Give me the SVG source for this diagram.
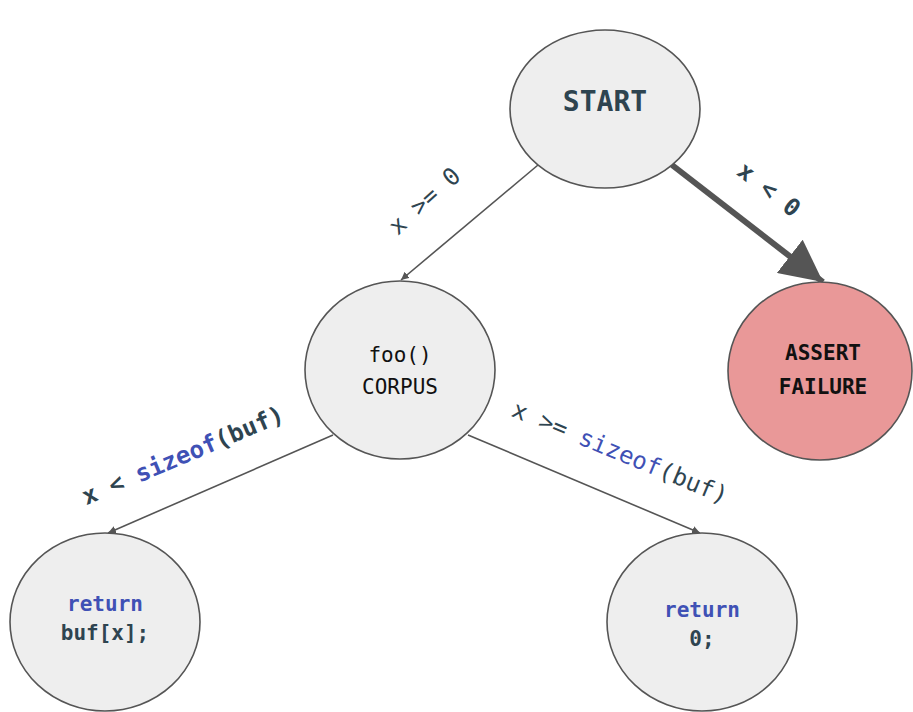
<svg xmlns="http://www.w3.org/2000/svg" width="913" height="712" viewBox="0 0 913 712">
  <defs>
    <marker id="arrow" viewBox="0 0 10 10" refX="10" refY="5" markerWidth="8" markerHeight="8" markerUnits="userSpaceOnUse" orient="auto">
      <path d="M0,0 L10,5 L0,10 Z" fill="#555"/>
    </marker>
    <marker id="arrowBig" viewBox="0 0 10 10" refX="10" refY="5" markerWidth="7" markerHeight="7" orient="auto">
      <path d="M0,0 L10,5 L0,10 Z" fill="#555"/>
    </marker>
  </defs>
  <style>
    .node { fill: #eeeeee; stroke: #555555; stroke-width: 1.6; }
    .fail { fill: #e99898; }
    .edge { stroke: #555555; stroke-width: 1.6; fill: none; }
    .thick { stroke-width: 6; }
    text { font-family: "DejaVu Sans Mono", "Liberation Mono", monospace; text-anchor: middle; }
    .dark { fill: #2e4450; }
    .blue { fill: #3f51b5; }
    .lbl { font-size: 24px; }
    .nt { font-size: 21px; }
  </style>
  <rect width="913" height="712" fill="#ffffff"/>

  <g id="connectors">
    <line class="edge" x1="538" y1="165" x2="401" y2="280" marker-end="url(#arrow)"/>
    <line class="edge thick" x1="672" y1="165" x2="823" y2="282" marker-end="url(#arrowBig)"/>
    <line class="edge" x1="333" y1="435" x2="108" y2="533" marker-end="url(#arrow)"/>
    <line class="edge" x1="468" y1="435" x2="700" y2="533" marker-end="url(#arrow)"/>
    <text class="lbl dark" transform="translate(430,207) rotate(-42)">x &gt;= 0</text>
    <text class="lbl dark" font-weight="bold" transform="translate(764,196) rotate(38)">x &lt; 0</text>
    <text class="lbl dark" font-weight="bold" transform="translate(186,463) rotate(-23)">x &lt; <tspan class="blue">sizeof</tspan>(buf)</text>
    <text class="lbl dark" transform="translate(617,460) rotate(22.5)">x &gt;= <tspan class="blue">sizeof</tspan>(buf)</text>
  </g>

  <g id="start">
    <ellipse class="node" cx="605" cy="109" rx="95" ry="79"/>
    <text class="dark" x="605" y="111" font-size="28" font-weight="bold">START</text>
  </g>

  <g id="foo">
    <ellipse class="node" cx="400" cy="370" rx="95" ry="89"/>
    <text class="nt" x="400" y="362" fill="#111">foo()</text>
    <text class="nt" x="400" y="394" fill="#111">CORPUS</text>
  </g>

  <g id="assert">
    <ellipse class="node fail" cx="820" cy="371" rx="92" ry="89"/>
    <text class="nt" x="823" y="360" font-weight="bold" fill="#111">ASSERT</text>
    <text class="nt" x="823" y="394" font-weight="bold" fill="#111">FAILURE</text>
  </g>

  <g id="return-buf">
    <ellipse class="node" cx="105" cy="622" rx="95" ry="89"/>
    <text class="nt blue" x="105" y="611" font-weight="bold">return</text>
    <text class="nt dark" x="105" y="640" font-weight="bold">buf[x];</text>
  </g>

  <g id="return-zero">
    <ellipse class="node" cx="702" cy="622" rx="95" ry="89"/>
    <text class="nt blue" x="702" y="617" font-weight="bold">return</text>
    <text class="nt dark" x="702" y="646" font-weight="bold">0;</text>
  </g>
</svg>
